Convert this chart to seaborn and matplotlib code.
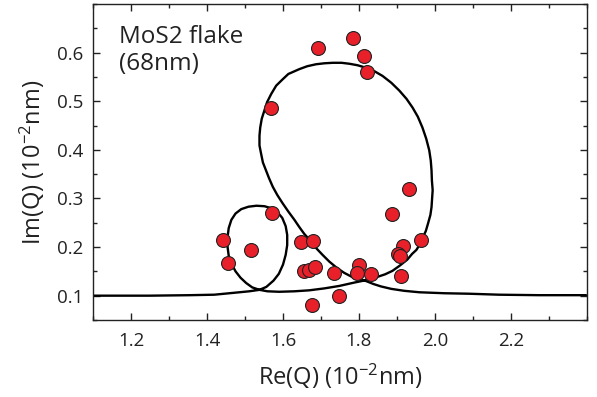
import matplotlib
matplotlib.use('Agg')
import matplotlib.pyplot as plt
import seaborn as sns
import pandas as pd
from matplotlib.ticker import MultipleLocator

# measured points
re_pts = [1.441, 1.454, 1.516, 1.570, 1.568, 1.693, 1.783, 1.812, 1.820,
          1.647, 1.678, 1.654, 1.669, 1.684, 1.676, 1.735, 1.748, 1.799,
          1.796, 1.832, 1.886, 1.931, 1.915, 1.902, 1.907, 1.911, 1.963]
im_pts = [0.215, 0.168, 0.193, 0.270, 0.485, 0.609, 0.631, 0.592, 0.561,
          0.210, 0.213, 0.150, 0.152, 0.159, 0.080, 0.146, 0.100, 0.163,
          0.146, 0.145, 0.267, 0.320, 0.202, 0.185, 0.181, 0.141, 0.215]

# model trajectory in drawing order
re_curve = [1.100, 1.248, 1.354, 1.419, 1.472, 1.511, 1.538,
            # small loop
            1.556, 1.575, 1.589, 1.600, 1.607, 1.611, 1.611, 1.607, 1.598, 1.585,
            1.569, 1.551, 1.530, 1.509, 1.490, 1.475, 1.464, 1.457, 1.454, 1.454,
            1.457, 1.464, 1.475, 1.488, 1.503, 1.519, 1.538,
            # lower branch and right side of the big loop
            1.559, 1.590, 1.630, 1.669, 1.709, 1.748, 1.788, 1.819, 1.846, 1.869,
            1.888, 1.906, 1.927, 1.940, 1.951, 1.960, 1.967, 1.976, 1.982, 1.988,
            1.991, 1.994, 1.992, 1.991, 1.989, 1.985, 1.977, 1.967, 1.955, 1.941,
            1.925, 1.906, 1.885, 1.862, 1.840, 1.818, 1.796, 1.775, 1.754, 1.731,
            1.709, 1.687, 1.664, 1.643, 1.614, 1.599, 1.582, 1.569, 1.558, 1.551,
            1.544, 1.540, 1.538, 1.538, 1.542, 1.547, 1.555, 1.563, 1.573, 1.585,
            1.599, 1.614, 1.630, 1.643, 1.656, 1.672, 1.687, 1.704, 1.722, 1.742,
            1.761, 1.788, 1.819, 1.838, 1.858, 1.885, 1.919, 1.959, 2.025, 2.090,
            2.169, 2.275, 2.398]
im_curve = [0.100, 0.100, 0.101, 0.102, 0.106, 0.109, 0.112,
            0.118, 0.131, 0.145, 0.164, 0.184, 0.204, 0.225, 0.243, 0.260, 0.272,
            0.280, 0.284, 0.285, 0.283, 0.278, 0.269, 0.256, 0.239, 0.221, 0.200,
            0.182, 0.166, 0.150, 0.137, 0.126, 0.117, 0.112,
            0.109, 0.108, 0.109, 0.111, 0.115, 0.120, 0.127, 0.132, 0.138, 0.144,
            0.151, 0.161, 0.174, 0.186, 0.194, 0.205, 0.218, 0.233, 0.249, 0.266,
            0.282, 0.317, 0.337, 0.358, 0.378, 0.399, 0.423, 0.446, 0.468, 0.487,
            0.505, 0.522, 0.538, 0.552, 0.562, 0.569, 0.574, 0.577, 0.579, 0.579,
            0.578, 0.576, 0.572, 0.566, 0.556, 0.545, 0.532, 0.515, 0.498, 0.481,
            0.464, 0.446, 0.429, 0.409, 0.393, 0.374, 0.358, 0.342, 0.324, 0.307,
            0.290, 0.273, 0.256, 0.241, 0.227, 0.213, 0.198, 0.184, 0.170, 0.157,
            0.147, 0.136, 0.130, 0.124, 0.119, 0.114, 0.110, 0.107, 0.105, 0.104,
            0.102, 0.101, 0.101]

sns.set_style('ticks')
plt.rcParams['font.family'] = ['Open Sans', 'DejaVu Sans']
plt.rcParams['mathtext.default'] = 'regular'

pts = pd.DataFrame({'re': re_pts, 'im': im_pts})
curve = pd.DataFrame({'re': re_curve, 'im': im_curve})

fig = plt.figure(figsize=(5.97, 3.97), dpi=100)
ax = fig.add_axes([0.156, 0.194, 0.827, 0.796])

sns.lineplot(data=curve, x='re', y='im', sort=False, estimator=None,
             color='black', linewidth=1.7, ax=ax)
ax.lines[0].set_solid_joinstyle('round')
sns.scatterplot(data=pts, x='re', y='im', s=100, color='#e8202a',
                edgecolor='#222222', linewidth=0.8, zorder=3, ax=ax)

ax.set_xlim(1.1, 2.4)
ax.set_ylim(0.05, 0.7)
ax.xaxis.set_minor_locator(MultipleLocator(0.1))
ax.yaxis.set_minor_locator(MultipleLocator(0.05))
ax.set_xticks([1.2, 1.4, 1.6, 1.8, 2.0, 2.2])
ax.set_xticklabels(['1.2', '1.4', '1.6', '1.8', '2.0', '2.2'])
ax.set_yticks([0.1, 0.2, 0.3, 0.4, 0.5, 0.6])
ax.set_yticklabels(['0.1', '0.2', '0.3', '0.4', '0.5', '0.6'])
ax.tick_params(which='both', direction='in', top=True, right=True, width=1.0,
               colors='#222222', labelsize=13.5, labelcolor='#222222')
ax.tick_params(axis='x', pad=9)
ax.tick_params(axis='y', pad=7)
ax.tick_params(which='major', length=5)
ax.tick_params(which='minor', length=3)
for s in ax.spines.values():
    s.set_linewidth(1.0)
    s.set_color('#222222')

ax.set_xlabel(r'Re(Q) (10$^{-2}$nm)', fontsize=17, color='#222222', labelpad=8)
ax.set_ylabel(r'Im(Q) (10$^{-2}$nm)', fontsize=17, color='#222222', labelpad=7)

ax.text(0.052, 0.935, 'MoS2 flake\n(68nm)', transform=ax.transAxes, fontsize=17.5,
        va='top', ha='left', color='#222222', linespacing=1.2)

fig.savefig('out.png', dpi=100)
